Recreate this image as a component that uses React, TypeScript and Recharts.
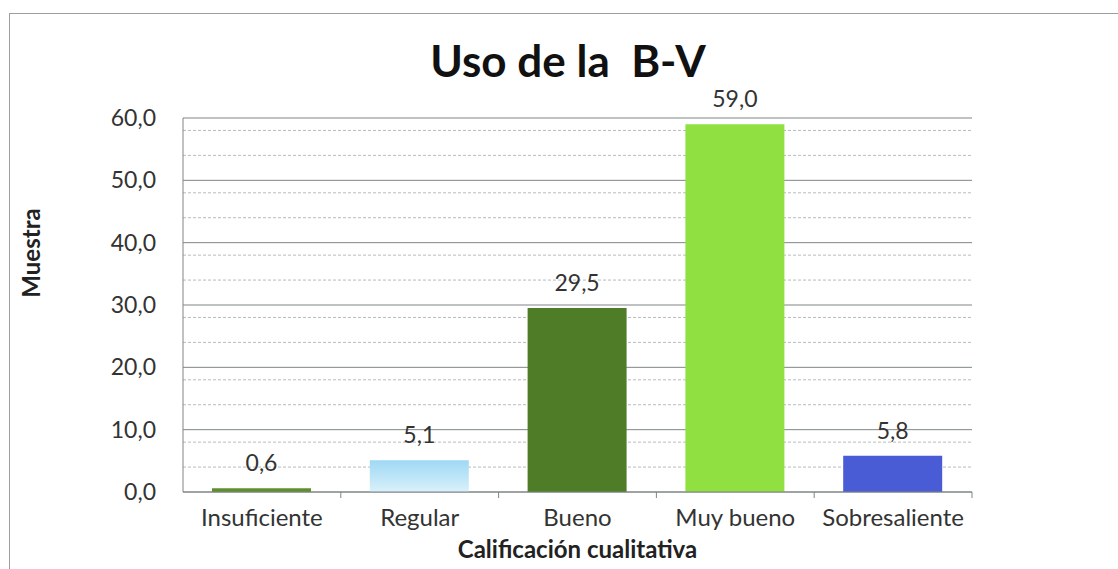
import React from 'react';
import { BarChart, Bar, XAxis, YAxis, CartesianGrid, Cell, LabelList, Label } from 'recharts';

const categories = ['Insuficiente', 'Regular', 'Bueno', 'Muy bueno', 'Sobresaliente'];
const values = [0.6, 5.1, 29.5, 59.0, 5.8];
const barColors = ['#5f8f2c', 'url(#regularGrad)', '#4f7d27', '#8fe040', '#4a5bd6'];
const yTicks = [0, 10, 20, 30, 40, 50, 60];
const minorTicks = [2, 4, 6, 8, 12, 14, 16, 18, 22, 24, 26, 28, 32, 34, 36, 38, 42, 44, 46, 48, 52, 54, 56, 58];

const data = categories.map((c, i) => ({ name: c, value: values[i] }));

const FONT = 'Lato, "Open Sans", sans-serif';
const fmt = (v: number) => v.toFixed(1).replace('.', ',');

const ValueLabel = (props: any) => {
  const { x, y, width, value } = props;
  return (
    <text x={x + width / 2} y={y - 17} textAnchor="middle" fontFamily={FONT} fontSize={23} fill="#333">
      {fmt(value)}
    </text>
  );
};

const CategoryTick = (props: any) => {
  const { x, y, payload, width, visibleTicksCount } = props;
  const half = width / (2 * (visibleTicksCount || 5));
  return (
    <g>
      <line x1={x + half} x2={x + half} y1={y} y2={y + 6} stroke="#7f8585" />
      <text x={x} y={y + 34} textAnchor="middle" fontFamily={FONT} fontSize={24} fill="#333">
        {payload.value}
      </text>
    </g>
  );
};

export default function App() {
  return (
    <div style={{ position: 'absolute', left: 0, top: 0, width: 1118, height: 569, overflow: 'hidden', background: '#fff' }}>
      <div style={{ position: 'absolute', left: 9, top: 13, width: 1200, height: 700, border: '1px solid #9aa0a0', boxSizing: 'border-box' }} />
      <div style={{ position: 'absolute', left: 0, top: 34, width: 1136, textAlign: 'center', fontFamily: FONT, fontWeight: 700, fontSize: 44, lineHeight: '52px', color: '#111', whiteSpace: 'pre' }}>
        {'Uso de la  B-V'}
      </div>
      <div style={{ position: 'absolute', left: 0, top: 0 }}>
        <BarChart width={1118} height={569} data={data} margin={{ top: 118, right: 146, bottom: 7, left: 103 }} barSize={99}>
          <defs>
            <linearGradient id="regularGrad" x1="0" y1="0" x2="0" y2="1">
              <stop offset="0%" stopColor="#9fd8f4" />
              <stop offset="100%" stopColor="#d9f1fb" />
            </linearGradient>
          </defs>
          <CartesianGrid horizontal vertical={false} horizontalValues={minorTicks} stroke="#b8bcbc" strokeDasharray="3 2" />
          <CartesianGrid horizontal vertical={false} horizontalValues={yTicks} stroke="#7f8585" />
          <XAxis
            dataKey="name"
            height={70}
            axisLine={{ stroke: '#7f8585' }}
            tickLine={false}
            tickSize={0}
            tickMargin={0}
            tick={<CategoryTick />}
            interval={0}
          >
            <Label
              content={(p: any) => {
                const vb = p.viewBox;
                return (
                  <text x={vb.x + vb.width / 2} y={vb.y + 66} textAnchor="middle" fontFamily={FONT} fontWeight={700} fontSize={24} fill="#222">
                    Calificación cualitativa
                  </text>
                );
              }}
            />
          </XAxis>
          <YAxis
            domain={[0, 60]}
            ticks={yTicks}
            width={80}
            axisLine={{ stroke: '#7f8585' }}
            tickLine={false}
            tickSize={0}
            tickMargin={27}
            tickFormatter={fmt}
            tick={{ fontFamily: FONT, fontSize: 23, fill: '#333' }}
          >
            <Label
              content={() => (
                <text transform="translate(40,253) rotate(-90)" textAnchor="middle" fontFamily={FONT} fontWeight={700} fontSize={24} fill="#222">
                  Muestra
                </text>
              )}
            />
          </YAxis>
          <Bar dataKey="value" isAnimationActive={false}>
            {data.map((d, i) => (
              <Cell key={d.name} fill={barColors[i]} />
            ))}
            <LabelList dataKey="value" content={ValueLabel} />
          </Bar>
        </BarChart>
      </div>
    </div>
  );
}
